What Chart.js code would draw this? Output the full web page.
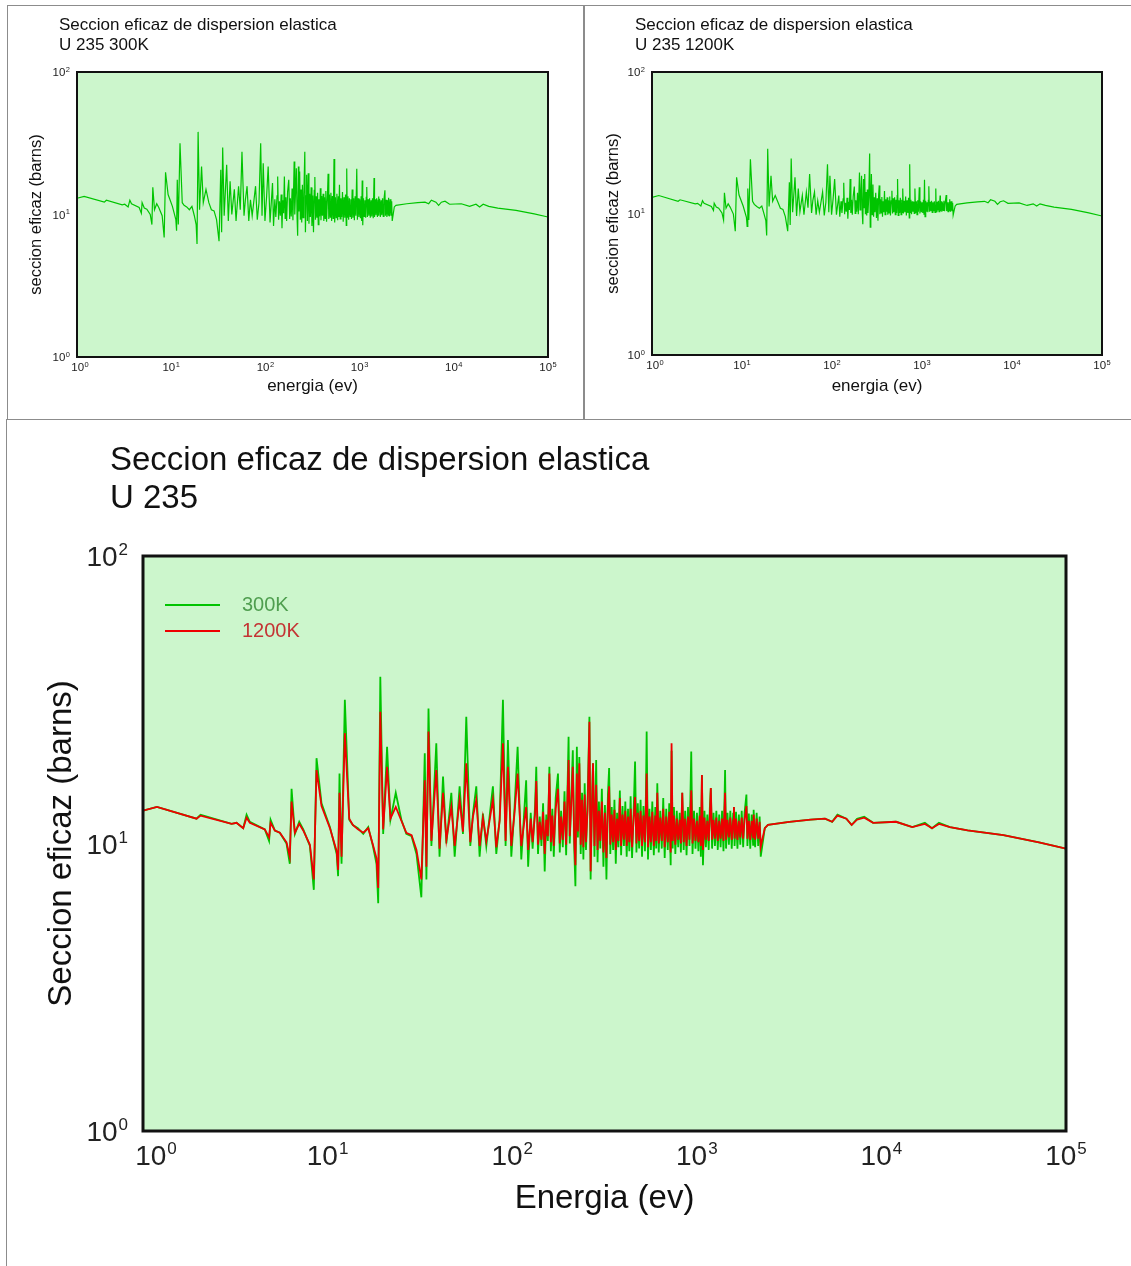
<!DOCTYPE html>
<html>
<head>
<meta charset="utf-8">
<script src="https://cdn.jsdelivr.net/npm/chart.js@4.4.0/dist/chart.umd.min.js"></script>
<style>
  body { margin: 0; background: #fff; width: 1131px; height: 1266px; position: relative; overflow: hidden; }
  .panel { position: absolute; border: 1px solid #8c8c8c; box-sizing: border-box; }
  canvas { position: absolute; }
</style>
</head>
<body>
<div class="panel" style="left:7px;top:5px;width:577px;height:415px"></div>
<div class="panel" style="left:584px;top:5px;width:552px;height:415px"></div>
<div class="panel" style="left:6px;top:419px;width:1135px;height:860px"></div>
<canvas id="c300" width="574" height="412" style="left:8px;top:6px"></canvas>
<canvas id="c1200" width="545" height="412" style="left:585px;top:6px"></canvas>
<canvas id="cBoth" width="1124" height="845" style="left:7px;top:421px"></canvas>
<script>
  // energia (eV) y seccion eficaz (barns)
  const energia = [
    1, 1.19, 1.95, 2.05, 3.02, 3.21, 3.49, 3.64, 3.79, 4.57,
    4.82, 4.91, 5.18, 5.51, 5.99, 6.24, 6.38, 6.65, 7.02, 7.38,
    8.02, 8.42, 8.71, 9.27, 10.3, 11.2, 11.4, 11.6, 11.9, 12.4,
    13.1, 13.7, 14.6, 15.6, 16.6, 17.6, 18.4, 18.8, 19.3, 20.0,
    21.0, 21.9, 23.4, 25.1, 26.7, 28.5, 30.3, 32.2, 33.6, 34.3,
    35.2, 36.5, 38.8, 40.4, 42.2, 44.0, 46.8, 48.8, 51.9, 54.1,
    56.4, 59.3, 61.3, 63.9, 66.6, 69.4, 72.4, 78.6, 82.0, 85.5,
    89.1, 92.1, 94.8, 98.9, 103, 107, 112, 119, 122, 126,
    129, 133, 135, 138, 141, 144, 147, 150, 153, 156,
    159, 162, 165, 168, 172, 177, 181, 184, 188, 192,
    196, 202, 205, 209, 213, 217, 220, 224, 227, 231,
    235, 239, 243, 247, 251, 256, 262, 266, 270, 274,
    279, 285, 290, 295, 300, 306, 312, 318, 324, 330,
    335, 340, 346, 352, 358, 364, 370, 376, 383, 389,
    396, 403, 410, 417, 424, 431, 438, 446, 455, 463,
    471, 479, 487, 496, 505, 514, 524, 530, 535, 544,
    554, 564, 574, 585, 596, 603, 611, 622, 634, 646,
    658, 670, 683, 696, 709, 722, 730, 740, 752, 765,
    779, 793, 808, 820, 834, 849, 865, 880, 896, 913,
    933, 948, 966, 984, 1002, 1020, 1038, 1052, 1066, 1080,
    1100, 1120, 1140, 1160, 1176, 1191, 1210, 1232, 1254, 1276,
    1299, 1322, 1346, 1370, 1395, 1423, 1440, 1466, 1492, 1519,
    1546, 1574, 1589, 1602, 1631, 1660, 1690, 1720, 1751, 1783,
    1815, 1857, 1880, 1914, 1948, 1983, 2018, 2032, 2070, 2110,
    2150, 2190, 2220, 2335, 2430, 3170, 4140, 4950, 5410, 5780,
    6460, 6900, 7380, 8070, 9020, 12000, 14700, 17200, 18800, 20500,
    23500, 29300, 45800, 71400, 100000
  ];

  const sigma300 = [
    13.0, 13.4, 12.2, 12.6, 11.7, 11.8, 11.3, 12.6, 11.9, 11.2,
    10.2, 12.1, 11.1, 10.9, 10.0, 8.5, 15.5, 10.8, 11.9, 11.2,
    9.8, 6.9, 19.8, 13.8, 11.4, 9.2, 7.7, 17.5, 8.5, 31.6,
    12.1, 11.6, 11.3, 10.8, 11.4, 9.8, 8.5, 6.2, 38.0, 10.8,
    21.7, 12.1, 15.0, 12.1, 10.8, 10.6, 9.2, 6.5, 20.6, 7.5,
    29.5, 9.8, 22.3, 9.0, 17.1, 10.0, 15.0, 9.0, 15.8, 10.8,
    27.6, 9.8, 12.7, 15.8, 9.0, 12.7, 9.8, 15.8, 9.2, 12.1,
    31.6, 9.8, 22.9, 9.0, 13.4, 21.7, 8.8, 16.6, 8.3, 12.8,
    9.6, 13.5, 18.5, 9.2, 12.4, 9.8, 13.8, 8.0, 12.6, 10.2,
    18.5, 9.4, 13.2, 9.0, 14.4, 17.5, 9.3, 13.0, 9.7, 15.2,
    9.1, 23.5, 10.0, 14.6, 21.1, 9.4, 7.1, 21.7, 10.5, 20.0,
    9.2, 15.0, 8.8, 16.2, 9.5, 13.8, 27.6, 7.5, 13.5, 19.0,
    9.0, 19.5, 8.6, 14.0, 9.6, 15.5, 8.3, 13.6, 7.5, 14.8,
    18.3, 9.2, 13.4, 9.5, 14.2, 8.5, 12.8, 9.7, 15.3, 9.1,
    13.5, 9.8, 14.0, 9.0, 13.2, 9.4, 14.6, 8.9, 13.0, 19.3,
    9.3, 13.8, 9.6, 14.2, 9.0, 13.5, 9.4, 14.8, 24.5, 8.8,
    13.2, 9.5, 14.0, 9.1, 13.4, 9.6, 16.2, 9.3, 13.0, 9.6,
    14.4, 8.9, 13.2, 9.5, 13.8, 8.4, 21.0, 9.6, 13.4, 9.2,
    13.0, 9.7, 12.8, 9.3, 15.0, 9.5, 13.0, 9.1, 13.4, 9.8,
    20.9, 9.2, 13.0, 9.6, 12.8, 9.4, 13.4, 9.0, 17.3, 8.4,
    13.0, 9.7, 12.6, 9.5, 13.2, 15.6, 9.6, 12.8, 9.8, 13.0,
    9.5, 12.6, 9.7, 13.0, 9.4, 18.0, 9.6, 12.8, 9.9, 13.0,
    9.6, 12.7, 13.4, 9.8, 12.9, 9.6, 12.6, 9.9, 13.0, 9.7,
    12.8, 14.8, 9.8, 12.7, 9.6, 12.6, 9.9, 13.1, 9.7, 12.8,
    9.8, 12.4, 9.0, 11.3, 11.6, 11.9, 12.1, 12.2, 11.9, 12.6,
    12.2, 11.6, 12.2, 12.4, 11.8, 11.9, 11.4, 11.8, 11.3, 11.8,
    11.4, 11.1, 10.7, 10.1, 9.6
  ];

  const sigma1200 = [
    13.0, 13.4, 12.2, 12.5, 11.7, 11.8, 11.3, 12.3, 11.8, 11.2,
    10.5, 11.8, 11.1, 10.9, 10.1, 9.0, 14.0, 10.9, 11.7, 11.1,
    9.9, 7.5, 18.0, 13.5, 11.3, 9.4, 8.1, 15.0, 9.0, 24.2,
    12.2, 11.6, 11.2, 10.9, 11.3, 9.9, 8.9, 7.0, 28.7, 11.2,
    18.5, 12.2, 13.4, 12.0, 10.9, 10.7, 9.5, 7.5, 16.6, 8.3,
    24.5, 10.2, 18.0, 9.6, 15.0, 10.3, 13.4, 9.8, 14.2, 11.0,
    19.0, 10.1, 12.4, 14.2, 9.8, 12.3, 10.2, 14.2, 9.7, 12.0,
    22.3, 10.2, 18.5, 9.8, 12.8, 17.5, 9.8, 13.4, 9.5, 12.2,
    10.1, 12.7, 16.5, 9.9, 11.9, 10.3, 12.9, 9.2, 12.1, 10.6,
    17.5, 10.1, 12.5, 9.8, 13.2, 15.5, 10.0, 12.4, 10.3, 14.0,
    9.9, 19.5, 10.6, 13.8, 18.5, 10.1, 8.4, 17.5, 11.0, 19.0,
    9.9, 14.2, 9.7, 14.8, 10.1, 13.0, 26.5, 8.0, 12.7, 19.0,
    9.8, 16.0, 9.5, 13.0, 10.2, 14.0, 9.3, 12.8, 8.9, 13.6,
    15.8, 9.9, 12.6, 10.1, 13.1, 9.5, 12.2, 10.2, 14.4, 9.8,
    12.6, 10.3, 13.0, 9.8, 12.4, 10.1, 13.2, 9.7, 12.3, 14.5,
    10.0, 12.8, 10.2, 13.0, 9.8, 12.5, 10.1, 13.4, 17.5, 9.7,
    12.4, 10.1, 12.9, 9.8, 12.5, 10.2, 15.0, 10.0, 12.3, 10.2,
    13.2, 9.7, 12.4, 10.1, 12.9, 9.3, 22.3, 10.2, 12.5, 9.9,
    12.2, 10.3, 12.1, 10.0, 15.0, 10.1, 12.2, 9.8, 12.4, 10.3,
    15.3, 10.0, 12.2, 10.2, 12.0, 10.1, 12.5, 9.8, 17.3, 9.5,
    12.3, 10.3, 12.0, 10.2, 12.4, 15.6, 10.3, 12.1, 10.4, 12.3,
    10.2, 12.0, 10.4, 12.2, 10.2, 15.0, 10.3, 12.1, 10.5, 12.3,
    10.3, 12.0, 13.4, 10.4, 12.2, 10.3, 12.0, 10.5, 12.3, 10.4,
    12.1, 13.5, 10.4, 12.0, 10.3, 12.0, 10.5, 12.6, 10.3, 12.2,
    10.4, 11.9, 9.75, 11.3, 11.6, 11.9, 12.1, 12.2, 11.9, 12.5,
    12.2, 11.6, 12.1, 12.3, 11.8, 11.9, 11.4, 11.7, 11.3, 11.7,
    11.4, 11.1, 10.7, 10.1, 9.6
  ];

  const xTicks = [1, 10, 100, 1000, 10000, 100000];
  const yTicks = [1, 10, 100];

  const fam = '"Liberation Sans", Arial, Helvetica, sans-serif';
  const verde = '#00c400';
  const rojo = '#ee0000';
  const fondo = '#ccf6cc';

  Chart.defaults.font.family = fam;
  Chart.defaults.color = '#1a1a1a';

  function puntos(sig) {
    return energia.map((e, i) => ({ x: e, y: sig[i] }));
  }

  // fondo verde del area de datos
  const plotBg = {
    id: 'plotBg',
    beforeDatasetsDraw(chart) {
      const { ctx, chartArea: a } = chart;
      ctx.save();
      ctx.fillStyle = fondo;
      ctx.fillRect(a.left, a.top, a.right - a.left, a.bottom - a.top);
      ctx.restore();
    }
  };

  // marco negro y leyenda de lineas
  const frame = {
    id: 'frame',
    afterDatasetsDraw(chart, args, o) {
      const { ctx, chartArea: a } = chart;
      ctx.save();
      ctx.strokeStyle = '#111';
      ctx.lineWidth = o.width;
      ctx.strokeRect(a.left, a.top, a.right - a.left, a.bottom - a.top);
      if (o.legend) {
        const lg = o.legend;
        ctx.font = lg.size + 'px ' + fam;
        ctx.textBaseline = 'middle';
        chart.data.datasets.forEach((ds, i) => {
          const y = a.top + lg.top + i * lg.gap;
          ctx.strokeStyle = ds.borderColor;
          ctx.lineWidth = 2;
          ctx.beginPath();
          ctx.moveTo(a.left + lg.x1, y);
          ctx.lineTo(a.left + lg.x2, y);
          ctx.stroke();
          ctx.fillStyle = lg.colors[i];
          ctx.fillText(ds.label, a.left + lg.tx, y);
        });
      }
      ctx.restore();
    }
  };

  // etiquetas 10^n con exponente elevado, en la posicion de cada tick
  const powLabels = {
    id: 'powLabels',
    afterDraw(chart, args, o) {
      const { ctx, chartArea: a } = chart;
      const xs = chart.scales.x, ys = chart.scales.y;
      ctx.save();
      ctx.fillStyle = '#222';
      ctx.textBaseline = 'alphabetic';
      ctx.textAlign = 'left';
      const label = (v, left, base) => {
        const n = String(Math.round(Math.log10(v)));
        ctx.font = o.size + 'px ' + fam;
        ctx.fillText('10', left, base);
        const w = ctx.measureText('10').width;
        ctx.font = o.exp + 'px ' + fam;
        ctx.fillText(n, left + w + o.gapE, base - o.raise);
      };
      const width = v => {
        ctx.font = o.size + 'px ' + fam;
        const w = ctx.measureText('10').width;
        ctx.font = o.exp + 'px ' + fam;
        return w + o.gapE + ctx.measureText(String(Math.round(Math.log10(v)))).width;
      };
      xTicks.forEach((v, i) => {
        const px = xs.getPixelForValue(v);
        const w = width(v);
        label(v, px - w / 2 + (i === 0 ? o.firstShift : 0), a.bottom + o.xBase);
      });
      yTicks.forEach(v => {
        const py = ys.getPixelForValue(v);
        const w = width(v);
        label(v, a.left - o.yGap - w, py + o.size * 0.36);
      });
      ctx.restore();
    }
  };

  // titulo de dos lineas alineado a la izquierda
  const header = {
    id: 'header',
    afterDraw(chart, args, o) {
      const ctx = chart.ctx;
      ctx.save();
      ctx.font = o.size + 'px ' + fam;
      ctx.fillStyle = '#111';
      ctx.textBaseline = 'middle';
      o.lines.forEach((t, i) => ctx.fillText(t, o.x, o.y + i * o.lh));
      ctx.restore();
    }
  };

  function makeChart(id, datasets, L) {
    return new Chart(document.getElementById(id), {
      type: 'line',
      data: { datasets: datasets },
      plugins: [plotBg, frame, powLabels, header],
      options: {
        responsive: false,
        animation: false,
        events: [],
        layout: { padding: { top: L.top, right: L.right, left: 0, bottom: 0 } },
        elements: { point: { radius: 0 }, line: { tension: 0 } },
        plugins: {
          legend: { display: false },
          tooltip: { enabled: false },
          header: { lines: L.title, x: L.hx, y: L.hy, lh: L.hlh, size: L.hsize },
          frame: { width: L.frame, legend: L.legend },
          powLabels: L.ticks
        },
        scales: {
          x: {
            type: 'logarithmic', min: 1, max: 100000,
            afterBuildTicks: ax => { ax.ticks = xTicks.map(v => ({ value: v })); },
            afterFit: ax => { ax.height = L.xh; },
            grid: { display: false, drawTicks: false },
            border: { display: false },
            ticks: { display: false },
            title: { display: true, text: L.xTitle, color: '#111', font: { size: L.xt },
                     padding: { top: 0, bottom: L.xtb } }
          },
          y: {
            type: 'logarithmic', min: 1, max: 100,
            afterBuildTicks: ax => { ax.ticks = yTicks.map(v => ({ value: v })); },
            afterFit: ax => { ax.width = L.yw; },
            grid: { display: false, drawTicks: false },
            border: { display: false },
            ticks: { display: false },
            title: { display: true, text: L.yTitle, color: '#111', font: { size: L.yt },
                     padding: { top: L.ytt, bottom: 0 } }
          }
        }
      }
    });
  }

  const smallTicks = { size: 11.5, exp: 7.5, raise: 4.5, gapE: 0.5, xBase: 14, yGap: 7, firstShift: 3 };

  makeChart('c300', [
    { label: '300K', data: puntos(sigma300), borderColor: verde, borderWidth: 1.2 }
  ], {
    top: 66, right: 34, xh: 61, yw: 69, frame: 2,
    title: ['Seccion eficaz de dispersion elastica', 'U 235 300K'],
    hx: 51, hy: 19, hlh: 20, hsize: 17,
    ticks: smallTicks, xt: 17, yt: 16.5, xtb: 21, ytt: 19,
    xTitle: 'energia (ev)', yTitle: 'seccion eficaz (barns)'
  });

  makeChart('c1200', [
    { label: '1200K', data: puntos(sigma1200), borderColor: verde, borderWidth: 1.2 }
  ], {
    top: 66, right: 28, xh: 63, yw: 67, frame: 2,
    title: ['Seccion eficaz de dispersion elastica', 'U 235 1200K'],
    hx: 50, hy: 19, hlh: 20, hsize: 17,
    ticks: smallTicks, xt: 17, yt: 16.5, xtb: 21, ytt: 19,
    xTitle: 'energia (ev)', yTitle: 'seccion eficaz (barns)'
  });

  makeChart('cBoth', [
    { label: '300K', data: puntos(sigma300), borderColor: verde, borderWidth: 1.8, order: 1 },
    { label: '1200K', data: puntos(sigma1200), borderColor: rojo, borderWidth: 1.8, order: 0 }
  ], {
    top: 135, right: 65, xh: 135, yw: 136, frame: 3,
    title: ['Seccion eficaz de dispersion elastica', 'U 235'],
    hx: 103, hy: 40, hlh: 38, hsize: 33,
    ticks: { size: 28, exp: 17, raise: 10.6, gapE: 1, xBase: 34, yGap: 15, firstShift: 13 },
    xt: 33, yt: 33, xtb: 47, ytt: 35,
    xTitle: 'Energia (ev)', yTitle: 'Seccion eficaz (barns)',
    legend: { top: 49, gap: 26, x1: 22, x2: 77, tx: 99, size: 20, colors: ['#4f9e4f', '#c43434'] }
  });
</script>
</body>
</html>
